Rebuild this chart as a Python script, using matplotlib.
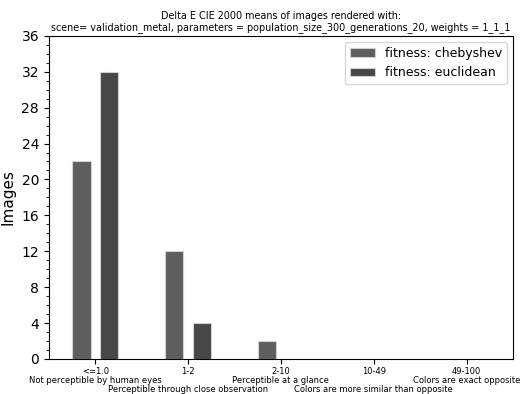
import numpy as np
import matplotlib
matplotlib.use("Agg")
import matplotlib.pyplot as plt
from matplotlib.ticker import MultipleLocator

categories = ['<=1.0\nNot perceptible by human eyes',
              '1-2\n\nPerceptible through close observation',
              '2-10\nPerceptible at a glance',
              '10-49\n\nColors are more similar than opposite',
              '49-100\nColors are exact opposite']
chebyshev = [22, 12, 2, 0, 0]
euclidean = [32, 4, 0, 0, 0]

x = np.arange(len(categories))
w = 0.2

fig = plt.figure(figsize=(5.25, 3.94), dpi=100)
ax = fig.add_axes([0.093, 0.089, 0.884, 0.82])

ax.bar(x - 0.15, chebyshev, w, color='#5e5e5e', edgecolor='#d0d0d0', linewidth=0.8,
       label='fitness: chebyshev')
ax.bar(x + 0.15, euclidean, w, color='#474747', edgecolor='#d0d0d0', linewidth=0.8,
       label='fitness: euclidean')

ax.set_xlim(-0.5, 4.5)
ax.set_ylim(0, 36)
ax.yaxis.set_major_locator(MultipleLocator(4))
ax.yaxis.set_minor_locator(MultipleLocator(1))
ax.set_xticks(x)
ax.set_xticklabels(categories, fontsize=6, linespacing=1.0)
ax.tick_params(axis='x', pad=2)
ax.tick_params(axis='y', labelsize=10)
ax.set_ylabel('Images', fontsize=11)
ax.set_title('Delta E CIE 2000 means of images rendered with:\n'
             'scene= validation_metal, parameters = population_size_300_generations_20, weights = 1_1_1',
             fontsize=6.9, pad=4)
ax.legend(loc='upper right', fontsize=9)

fig.savefig('out.png', dpi=100)
